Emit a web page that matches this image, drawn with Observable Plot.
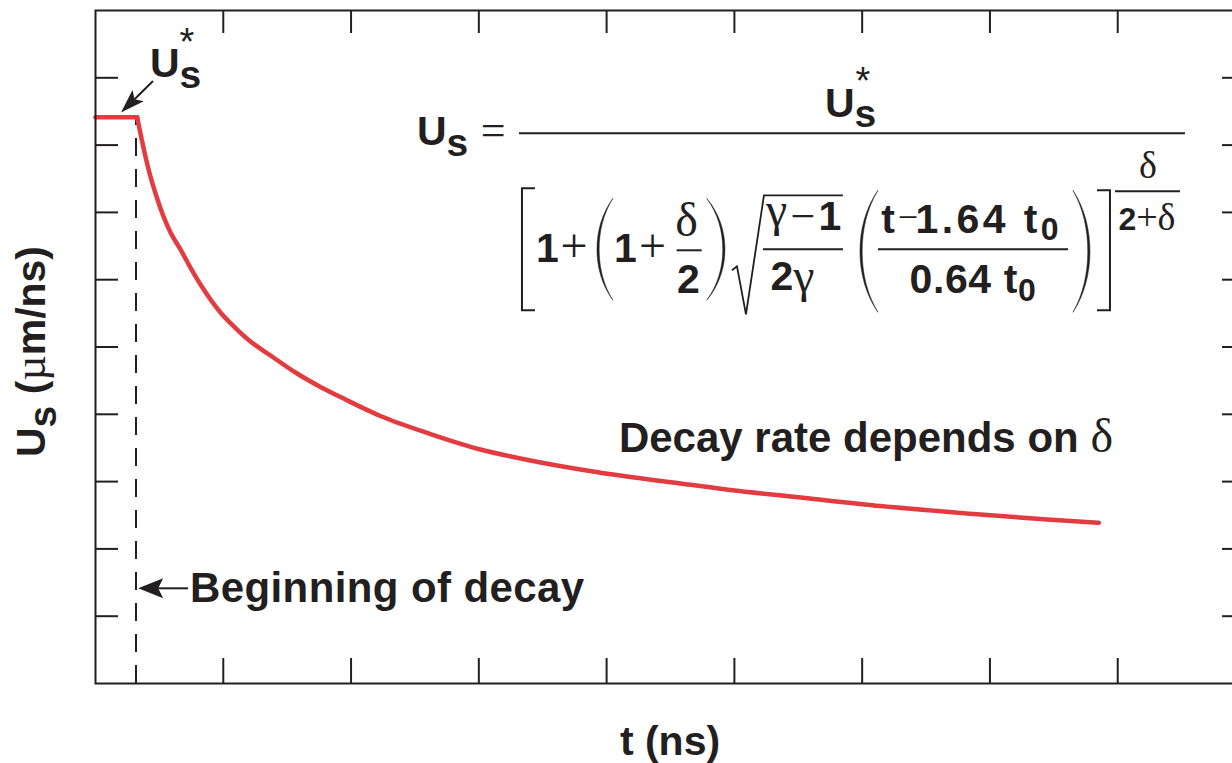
<!DOCTYPE html>
<html>
<head>
<meta charset="utf-8">
<script src="https://cdn.jsdelivr.net/npm/d3@7"></script>
<script src="https://cdn.jsdelivr.net/npm/@observablehq/plot@0.6"></script>
<style>
  html, body { margin: 0; padding: 0; background: #fff; overflow: hidden; }
  #chart svg { max-width: none !important; display: block; }
</style>
</head>
<body>
<div id="chart"></div>
<script>
// Shock velocity U_s after the laser drive ends: flat at U_s* then a power-law decay.
const t  = [0, 0.326, 0.352, 0.391, 0.430, 0.470, 0.509, 0.548, 0.587, 0.665, 0.743,
            0.822, 0.900, 0.978, 1.096, 1.213, 1.370, 1.565, 1.761, 1.956, 2.230,
            2.622, 3.013, 3.404, 3.796, 4.187, 4.578, 4.969, 5.517, 6.143, 6.926,
            7.450, 7.852];
const us = [8.415, 8.415, 8.172, 7.831, 7.533, 7.281, 7.058, 6.865, 6.701, 6.449, 6.181,
            5.929, 5.706, 5.513, 5.282, 5.082, 4.874, 4.621, 4.406, 4.220, 3.975,
            3.707, 3.477, 3.314, 3.180, 3.068, 2.972, 2.875, 2.764, 2.637, 2.511,
            2.437, 2.388];
const decayStart = 0.317;          // t where the decay begins (dashed marker)
const usStar = 8.415;              // plateau value U_s*
const xTicks = [1, 2, 3, 4, 5, 6, 7, 8];
const yTicks = [1, 2, 3, 4, 5, 6, 7, 8, 9];
const xDomain = [0, 9];
const yDomain = [0, 10];

// annotation anchors, in data units
const usStarLabel = {x: 0.43, y: 9.01};
const decayNote   = {x: 4.10, y: 3.437};
const beginNote   = {x: 0.7435, y: 1.208};
const formulaAt   = {x: 3.318, y: 8.168};
const arrows = [
  {x1: 0.454, y1: 8.945, x2: 0.2035, y2: 8.477},
  {x1: 0.728, y1: 1.407, x2: 0.338, y2: 1.407}
];

const INK = "#231f20";
const RED = "#e23b40";
const SANS = '"Liberation Sans", Arial, Helvetica, sans-serif';
const SERIF = '"Liberation Serif", "Times New Roman", serif';
const SERIF_CHARS = "δγµ+−=";

const W = 1250, H = 763, ML = 95, MR = 5, MT = 10, MB = 80;
const innerW = W - ML - MR, innerH = H - MT - MB;

// split "U_s (µm/ns)" into runs: "_" makes the next char a subscript,
// Greek letters and operators are set in a light serif
function segments(str) {
  const out = [];
  for (let i = 0; i < str.length; i++) {
    let ch = str[i], sub = false;
    if (ch === "_") { sub = true; ch = str[++i]; }
    const serif = SERIF_CHARS.includes(ch);
    const last = out[out.length - 1];
    if (last && last.sub === sub && last.serif === serif) last.text += ch;
    else out.push({text: ch, sub, serif});
  }
  return out;
}

function rich(g, str, o) {
  const size = o.size ?? 41;
  const serifSize = o.serifSize ?? size * 1.15;
  const subSize = o.subSize ?? size * 0.78;
  const subDy = o.subDy ?? size * 0.2;
  const text = g.append("text")
    .attr("x", o.x).attr("y", o.y)
    .attr("text-anchor", o.anchor ?? "middle")
    .attr("fill", INK)
    .style("white-space", "pre");
  if (o.rotate) text.attr("transform", `rotate(${o.rotate} ${o.x} ${o.y})`);
  if (o.spacing) text.attr("letter-spacing", o.spacing);
  let shift = 0;
  for (const s of segments(str)) {
    const target = s.sub ? subDy : 0;
    const fs = s.serif ? serifSize * (s.sub ? subSize / size : 1) : (s.sub ? subSize : size);
    text.append("tspan")
      .attr("dy", target - shift)
      .attr("font-family", s.serif ? SERIF : SANS)
      .attr("font-weight", s.serif ? "normal" : (o.weight ?? "bold"))
      .attr("font-size", fs)
      .text(s.text);
    shift = target;
  }
  return text;
}

// tall thin parenthesis, tapered at the ends
function paren(g, xEnd, yTop, yBot, xMid) {
  const ym = (yTop + yBot) / 2, k = (yBot - yTop) / 2;
  const dir = Math.sign(xMid - xEnd);
  const a = xMid, b = xMid - dir * 2.2;
  const cx = (v) => xEnd + (v - xEnd) * 0.7;
  const d = `M${xEnd},${yTop} C${cx(a)},${yTop + k * 0.3} ${a},${ym - k * 0.35} ${a},${ym}` +
            ` C${a},${ym + k * 0.35} ${cx(a)},${yBot - k * 0.3} ${xEnd},${yBot}` +
            ` C${cx(b)},${yBot - k * 0.3} ${b},${ym + k * 0.35} ${b},${ym}` +
            ` C${b},${ym - k * 0.35} ${cx(b)},${yTop + k * 0.3} ${xEnd},${yTop} Z`;
  g.append("path").attr("d", d).attr("fill", INK).attr("stroke", INK).attr("stroke-width", 0.5);
}

function arrow(g, x1, y1, x2, y2, len, half, notch) {
  const L = Math.hypot(x2 - x1, y2 - y1), ux = (x2 - x1) / L, uy = (y2 - y1) / L;
  const nx = -uy, ny = ux;
  const bx = x2 - ux * len, by = y2 - uy * len;
  const mx = x2 - ux * (len - notch), my = y2 - uy * (len - notch);
  g.append("line").attr("x1", x1).attr("y1", y1).attr("x2", mx).attr("y2", my)
    .attr("stroke", INK).attr("stroke-width", 2);
  g.append("path")
    .attr("d", `M${x2},${y2} L${bx + nx * half},${by + ny * half} L${mx},${my} L${bx - nx * half},${by - ny * half} Z`)
    .attr("fill", INK);
}

function drawFormula(g, ax, ay) {
  const T = (str, dx, dy, o = {}) => rich(g, str, {x: ax + dx, y: ay + dy, ...o});
  const hline = (x0, x1, dy, w = 2) => g.append("line")
    .attr("x1", ax + x0).attr("x2", ax + x1).attr("y1", ay + dy).attr("y2", ay + dy)
    .attr("stroke", INK).attr("stroke-width", w);
  const poly = (pts, w = 2) => g.append("path")
    .attr("d", "M" + pts.map(([px, py]) => `${ax + px},${ay + py}`).join("L"))
    .attr("fill", "none").attr("stroke", INK).attr("stroke-width", w);

  // left-hand side
  T("U_s", -102, 12, {anchor: "start", subSize: 39, subDy: 11});
  T("=", -25.7, 12, {serifSize: 44});
  hline(0, 666, 0);

  // numerator U_s*
  T("U_s", 306, -16.5, {anchor: "start", subSize: 39, subDy: 10});
  T("*", 344, -39, {weight: "normal", size: 38});

  // denominator
  poly([[16, 55], [3, 55], [3, 177], [16, 177]], 2);
  T("1", 28.5, 128.5);
  T("+", 55, 128.5, {serifSize: 48});
  paren(g, ax + 94, ay + 65, ay + 167, ax + 78);
  T("1", 106.5, 128.5);
  T("+", 133.5, 128.5, {serifSize: 48});
  T("δ", 167.7, 103, {serifSize: 48});
  hline(157.7, 182.7, 117);
  T("2", 169.5, 160);
  paren(g, ax + 187.7, ay + 65, ay + 167, ax + 206);

  poly([[213, 137], [218, 133], [227, 181], [245, 62], [324, 62]], 1.8);
  T("γ", 257.7, 93, {serifSize: 48});
  T("−", 284, 98, {serifSize: 44});
  T("1", 311, 97);
  hline(244, 324, 116);
  T("2", 263, 157);
  T("γ", 285, 159, {serifSize: 48});

  paren(g, ax + 359, ay + 57, ay + 179, ax + 341);
  T("t", 369, 100);
  T("−", 389, 96, {serifSize: 36});
  T("1.64 t_0", 396.5, 100, {anchor: "start", subSize: 32, subDy: 7, spacing: 3.4});
  hline(359, 549, 116);
  T("0.64 t_0", 454, 160, {subSize: 32, subDy: 8, spacing: 0.6});
  paren(g, ax + 554, ay + 57, ay + 179, ax + 571);
  poly([[578, 57], [591, 57], [591, 177], [578, 177]], 2);

  // exponent δ / (2+δ)
  T("δ", 629, 45, {serifSize: 38});
  hline(596, 661, 58);
  T("2+δ", 628, 97, {size: 32, serifSize: 38});
}

function annotations(index, scales, values, dims) {
  const x = scales.x, y = scales.y;
  const d = dims ?? {width: W, height: H, marginLeft: ML, marginRight: MR, marginTop: MT, marginBottom: MB};
  const g = d3.create("svg:g");

  drawFormula(g, x(formulaAt.x), y(formulaAt.y));

  // U_s* callout
  rich(g, "U_s", {x: x(usStarLabel.x), y: y(usStarLabel.y), anchor: "start", subSize: 39, subDy: 11});
  rich(g, "*", {x: x(usStarLabel.x) + 37, y: y(usStarLabel.y) - 22, weight: "normal", size: 38});

  rich(g, "Decay rate depends on δ", {x: x(decayNote.x), y: y(decayNote.y), anchor: "start", size: 42, serifSize: 48});
  rich(g, "Beginning of decay", {x: x(beginNote.x), y: y(beginNote.y), anchor: "start", size: 42, spacing: 0.4});

  arrow(g, x(arrows[0].x1), y(arrows[0].y1), x(arrows[0].x2), y(arrows[0].y2), 24, 8, 5);
  arrow(g, x(arrows[1].x1), y(arrows[1].y1), x(arrows[1].x2), y(arrows[1].y2), 25, 10, 5);

  // axis titles
  const cx = d.marginLeft + (d.width - d.marginLeft - d.marginRight) / 2;
  const cy = d.marginTop + (d.height - d.marginTop - d.marginBottom) / 2;
  rich(g, "t (ns)", {x: cx, y: d.height - d.marginBottom + 72, size: 41});
  rich(g, "U_s (µm/ns)", {x: d.marginLeft - 50, y: cy + 5, rotate: -90, size: 41, subSize: 39, subDy: 11, serifSize: 44});

  return g.node();
}

const data = t.map((v, i) => ({t: v, us: us[i]}));
const plateau = data.slice(0, 2);   // constant U_s* before the decay
const decay = data.slice(1);        // decaying branch

const chart = Plot.plot({
  width: W, height: H,
  marginLeft: ML, marginRight: MR, marginTop: MT, marginBottom: MB,
  style: {background: "#fff"},
  x: {domain: xDomain, axis: null},
  y: {domain: yDomain, axis: null},
  marks: [
    // inward ticks on all four sides
    Plot.ruleX(xTicks, {insetTop: innerH - 25, stroke: INK, strokeWidth: 2}),
    Plot.ruleX(xTicks, {insetBottom: innerH - 23, stroke: INK, strokeWidth: 2}),
    Plot.ruleY(yTicks, {insetRight: innerW - 23, stroke: INK, strokeWidth: 2}),
    Plot.ruleY(yTicks, {insetLeft: innerW - 23, stroke: INK, strokeWidth: 2}),
    Plot.ruleX([decayStart], {y1: 0, y2: usStar, stroke: INK, strokeWidth: 2, strokeDasharray: "18,13"}),
    Plot.line(plateau, {x: "t", y: "us", stroke: RED, strokeWidth: 4.5}),
    Plot.line(decay, {x: "t", y: "us", stroke: RED, strokeWidth: 4.5, curve: "monotone-x"}),
    Plot.frame({stroke: INK, strokeWidth: 2}),
    annotations
  ]
});

document.getElementById("chart").append(chart);
</script>
</body>
</html>
